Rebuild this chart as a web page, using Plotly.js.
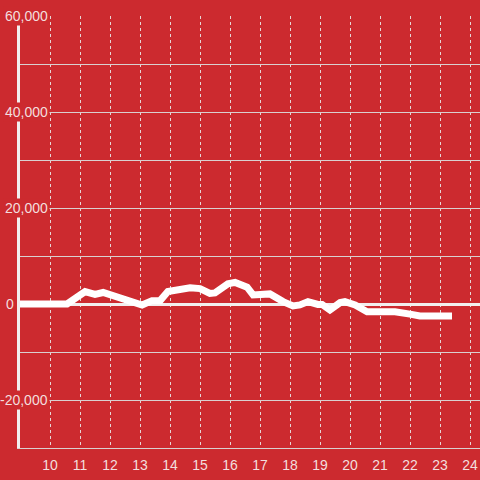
<!DOCTYPE html>
<html><head><meta charset="utf-8">
<script src="https://cdn.plot.ly/plotly-3.0.1.min.js"></script>
<style>html,body{margin:0;padding:0;background:#cc2a2f}</style>
</head><body>
<div id="chart" style="width:480px;height:480px"></div>
<script>
const hours = [9, 10.57, 11.17, 11.5, 11.77, 12.33, 12.67, 13.07, 13.4, 13.67, 13.93, 14.33, 14.67, 15, 15.33, 15.5, 15.93, 16.17, 16.33, 16.57, 16.77, 17.33, 17.77, 18.1, 18.33, 18.6, 18.93, 19.07, 19.33, 19.67, 19.83, 20.17, 20.57, 21.5, 22, 22.33, 23.4];
const values = [0, 0, 2600, 2000, 2400, 1200, 700, -200, 700, 700, 2600, 2900, 3400, 3200, 2200, 2300, 4200, 4500, 4000, 3500, 1900, 2100, 500, -400, -200, 500, -100, -100, -1250, 300, 500, -200, -1600, -1600, -2100, -2500, -2500];
const xTicks = [10, 11, 12, 13, 14, 15, 16, 17, 18, 19, 20, 21, 22, 23, 24];
const yLabelVals = [60000, 40000, 20000, 0, -20000];
const yLabelText = ['60,000', '40,000', '20,000', '0', '-20,000'];

const bg = '#cc2a2f';
const annotations = yLabelVals.map((v, i) => {
  const isZero = v === 0;
  return {
    xref: 'paper', yref: 'y', x: isZero ? -4 / 460 : 30 / 460, y: v,
    xanchor: 'right', yanchor: 'middle',
    text: yLabelText[i], showarrow: false,
    bgcolor: isZero ? 'rgba(0,0,0,0)' : bg, borderpad: 1,
    font: {family: 'Liberation Sans, Arial, sans-serif', size: 14, color: '#f3dede'}
  };
});

Plotly.newPlot('chart', [{
  x: hours, y: values, type: 'scatter', mode: 'lines',
  line: {color: '#ffffff', width: 7}, hoverinfo: 'skip'
}], {
  width: 480, height: 480,
  margin: {l: 20, r: 0, t: 16, b: 32, pad: 0},
  paper_bgcolor: bg, plot_bgcolor: bg,
  showlegend: false,
  font: {family: 'Liberation Sans, Arial, sans-serif', size: 14, color: '#f3dede'},
  xaxis: {
    range: [9, 24.3333], tickvals: xTicks, ticktext: xTicks.map(String),
    showgrid: true, gridcolor: '#e6d6d6', griddash: 'dot', gridwidth: 1,
    zeroline: false, showline: true, linecolor: '#d9d0d0', linewidth: 1,
    ticks: 'outside', ticklen: 4, tickcolor: 'rgba(0,0,0,0)',
    tickfont: {size: 14, color: '#f3dede'}, fixedrange: true
  },
  yaxis: {
    range: [-30000, 60000], dtick: 10000, showticklabels: false,
    showgrid: true, gridcolor: '#d9d0d0', gridwidth: 1,
    zeroline: true, zerolinecolor: '#f2eeee', zerolinewidth: 3,
    showline: true, linecolor: '#f2eeee', linewidth: 3, ticks: '', fixedrange: true
  },
  annotations: annotations
}, {displayModeBar: false, staticPlot: true});
</script>
</body></html>
